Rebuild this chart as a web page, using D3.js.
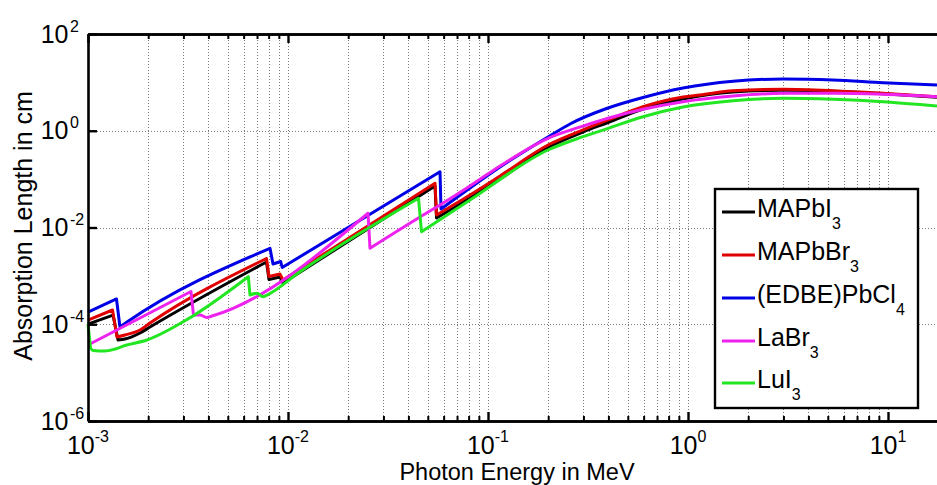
<!DOCTYPE html>
<html><head><meta charset="utf-8">
<script src="https://cdn.jsdelivr.net/npm/d3@7"></script>
<style>body{margin:0;background:#fff}svg{display:block}text{font-family:"Liberation Sans",Arial,sans-serif;fill:#000}</style>
</head><body><svg id="chart" width="937" height="485"></svg>
<script>
// ---- data (energy in MeV, absorption length in cm) ----
const seriesNames = ["MAPbI", "MAPbBr", "(EDBE)PbCl", "LaBr", "LuI"];
const seriesSubs = ["3", "3", "4", "3", "3"];
const seriesColors = ["#000000", "#e00000", "#0000e6", "#ee22ee", "#22e622"];

const mapbi3 = [[1.000e-3,1.01e-4],[1.334e-3,1.55e-4],[1.413e-3,4.72e-5],[1.531e-3,4.95e-5],[1.820e-3,6.59e-5],[2.042e-3,8.77e-5],[7.806e-3,1.94e-3],[8.035e-3,8.42e-4],[9.120e-3,9.48e-4],[9.441e-3,7.12e-4],[5.433e-2,0.0721],[5.528e-2,0.0157],[8.128e-2,0.0407],[0.1148,0.101],[0.1995,0.450],[0.2985,0.942],[0.3981,1.48],[0.5957,2.82],[0.9441,4.53],[1.679,6.32],[2.985,6.86],[5.309,6.57],[9.441,5.81],[17.58,4.94]];
const mapbbr3 = [[1.000e-3,1.22e-4],[1.326e-3,1.97e-4],[1.396e-3,5.45e-5],[1.531e-3,5.99e-5],[1.820e-3,7.61e-5],[2.042e-3,1.06e-4],[7.806e-3,2.29e-3],[8.035e-3,9.71e-4],[9.120e-3,1.09e-3],[9.441e-3,8.22e-4],[5.433e-2,0.0820],[5.528e-2,0.0181],[8.128e-2,0.0470],[0.1148,0.116],[0.1995,0.507],[0.2985,1.04],[0.3981,1.67],[0.5957,3.14],[0.9441,4.99],[1.148,5.48],[1.679,6.73],[2.985,7.19],[5.309,6.73],[9.441,5.95],[17.58,5.06]];
const edbepbcl4 = [[1.000e-3,1.79e-4],[1.388e-3,3.33e-4],[1.445e-3,8.77e-5],[1.567e-3,1.11e-4],[8.128e-3,3.72e-3],[8.414e-3,1.76e-3],[9.194e-3,1.98e-3],[9.354e-3,1.49e-3],[5.754e-2,0.142],[5.821e-2,0.0241],[8.128e-2,0.0656],[0.1148,0.178],[0.1995,0.743],[0.2570,1.38],[0.3981,2.95],[0.5957,4.87],[0.9441,7.65],[1.679,10.57],[2.985,11.74],[5.309,11.20],[9.441,9.85],[17.58,8.83]];
const labr3 = [[1.000e-3,3.72e-5],[3.273e-3,4.75e-4],[3.369e-3,1.55e-4],[3.631e-3,1.55e-4],[3.922e-3,1.38e-4],[4.169e-3,1.48e-4],[2.512e-2,0.0197],[2.570e-2,3.72e-3],[4.571e-2,0.0165],[5.754e-2,0.0292],[8.128e-2,0.0721],[0.1148,0.187],[0.1995,0.698],[0.2985,1.25],[0.3981,1.81],[0.5957,2.78],[0.9441,3.99],[1.679,5.23],[2.985,5.95],[5.309,5.95],[9.441,5.67],[17.58,5.06]];
const lui3 = [[1.000e-3,1.01e-4],[1.030e-3,3.2e-5],[1.059e-3,2.87e-5],[1.216e-3,2.80e-5],[1.365e-3,3.08e-5],[1.531e-3,3.64e-5],[1.972e-3,4.72e-5],[3.126e-3,1.25e-4],[6.332e-3,9.62e-4],[6.457e-3,4.02e-4],[6.998e-3,4.36e-4],[7.499e-3,3.71e-4],[7.852e-3,4.02e-4],[1.148e-2,1.22e-3],[4.493e-2,0.0401],[4.651e-2,8.19e-3],[8.128e-2,0.0370],[0.1995,0.400],[0.2985,0.753],[0.3981,1.12],[0.5957,1.95],[0.9441,3.10],[1.679,4.18],[2.985,4.69],[5.309,4.47],[9.441,3.99],[17.58,3.25]];

const xMajorTicks = [1e-3, 1e-2, 1e-1, 1, 10];
const yMajorTicks = [1e-6, 1e-4, 1e-2, 1, 1e2];
const xLabel = "Photon Energy in MeV";
const yLabel = "Absorption Length in cm";

// ---- drawing ----
const W = 937, H = 485;
const svg = d3.select("#chart");
const x = d3.scaleLog().domain([1e-3, 1e2]).range([88, 1088]);
const y = d3.scaleLog().domain([1e-6, 1e2]).range([421, 34]);
const x0 = x.range()[0], yTop = y.range()[1], yBot = y.range()[0];

const xMinorTicks = [];
xMajorTicks.forEach(d => { for (let k = 2; k <= 9; k++) xMinorTicks.push(+(k * d).toPrecision(3)); });
const xAllVisible = xMajorTicks.concat(xMinorTicks).filter(v => x(v) <= W);

// grid
const grid = svg.append("g").attr("stroke", "#7a7a7a").attr("stroke-width", 1).attr("stroke-dasharray", "1,2");
grid.selectAll("line.vx").data(xAllVisible.filter(v => v > 1e-3)).join("line")
  .attr("x1", d => Math.round(x(d)) + 0.5).attr("x2", d => Math.round(x(d)) + 0.5)
  .attr("y1", yTop).attr("y2", yBot);
grid.selectAll("line.hy").data([1e-4, 1e-2, 1]).join("line")
  .attr("x1", x0).attr("x2", W).attr("y1", d => Math.round(y(d)) + 0.5).attr("y2", d => Math.round(y(d)) + 0.5);

// curves: smooth pieces between absorption edges, edges drawn straight
const smooth = d3.line().x(d => x(d[0])).y(d => y(d[1])).curve(d3.curveMonotoneX);
function edgePath(pts) {
  const pieces = [[pts[0]]];
  for (let i = 1; i < pts.length; i++) {
    if (pts[i][1] < pts[i - 1][1] * 0.8) pieces.push([pts[i]]);
    else pieces[pieces.length - 1].push(pts[i]);
  }
  return pieces.map((p, k) => {
    const s = smooth(p);
    return k === 0 ? s : "L" + s.slice(1);
  }).join("");
}
const allSeries = [mapbi3, mapbbr3, edbepbcl4, labr3, lui3];
svg.append("g").selectAll("path").data(allSeries).join("path")
  .attr("d", edgePath).attr("fill", "none")
  .attr("stroke", (d, i) => seriesColors[i]).attr("stroke-width", 3)
  .attr("stroke-linejoin", "round");

// axes (ticks inward)
function styleAxis(g, w) {
  g.select(".domain").attr("stroke", "#000").attr("stroke-width", 2.6);
  g.selectAll(".tick line").attr("stroke", "#000").attr("stroke-width", w);
}
const axB1 = svg.append("g").attr("transform", `translate(0,${yBot})`)
  .call(d3.axisBottom(x).tickValues(xMinorTicks).tickSize(-5).tickSizeOuter(0).tickFormat(""));
styleAxis(axB1, 2);
const axB2 = svg.append("g").attr("transform", `translate(0,${yBot})`)
  .call(d3.axisBottom(x).tickValues(xMajorTicks).tickSize(-9).tickSizeOuter(0).tickFormat(""));
styleAxis(axB2, 2.4);
const axT1 = svg.append("g").attr("transform", `translate(0,${yTop})`)
  .call(d3.axisTop(x).tickValues(xMinorTicks).tickSize(-5).tickSizeOuter(0).tickFormat(""));
styleAxis(axT1, 2);
const axT2 = svg.append("g").attr("transform", `translate(0,${yTop})`)
  .call(d3.axisTop(x).tickValues(xMajorTicks).tickSize(-9).tickSizeOuter(0).tickFormat(""));
styleAxis(axT2, 2.4);
const axL = svg.append("g").attr("transform", `translate(${x0},0)`)
  .call(d3.axisLeft(y).tickValues(yMajorTicks).tickSize(-9).tickSizeOuter(0).tickFormat(""));
styleAxis(axL, 2.4);

// tick labels
const xl = svg.append("g").selectAll("text").data(xMajorTicks).join("text")
  .attr("x", d => x(d)).attr("y", 453.5).attr("text-anchor", "middle").attr("font-size", 25);
xl.append("tspan").text("10");
xl.append("tspan").attr("dy", -12).attr("font-size", 16).text(d => String(Math.round(Math.log10(d))));

const yl = svg.append("g");
yl.selectAll("text.b").data(yMajorTicks).join("text")
  .attr("x", 68.5).attr("y", d => y(d) + 8.6).attr("text-anchor", "end").attr("font-size", 25).text("10");
yl.selectAll("text.e").data(yMajorTicks).join("text")
  .attr("x", 70).attr("y", d => y(d) - 2.5).attr("text-anchor", "start").attr("font-size", 16)
  .text(d => String(Math.round(Math.log10(d))));

// axis titles
svg.append("text").attr("x", 517).attr("y", 480).attr("text-anchor", "middle").attr("font-size", 23.5).text(xLabel);
svg.append("text").attr("transform", "translate(32,226) rotate(-90)").attr("text-anchor", "middle").attr("font-size", 25).text(yLabel);

// legend
const lg = svg.append("g");
lg.append("rect").attr("x", 715).attr("y", 189).attr("width", 203).attr("height", 219)
  .attr("fill", "#fff").attr("stroke", "#000").attr("stroke-width", 2.4);
const rowY = [212, 255, 298, 341, 383];
const items = lg.selectAll("g.item").data(seriesNames).join("g");
items.append("line").attr("x1", 722).attr("x2", 755).attr("y1", (d, i) => rowY[i]).attr("y2", (d, i) => rowY[i])
  .attr("stroke", (d, i) => seriesColors[i]).attr("stroke-width", 3);
const lt = items.append("text").attr("x", 757).attr("y", (d, i) => rowY[i] + 5).attr("font-size", 25);
lt.append("tspan").text(d => d);
lt.append("tspan").attr("dy", 12).attr("font-size", 16).text((d, i) => seriesSubs[i]);
</script></body></html>
